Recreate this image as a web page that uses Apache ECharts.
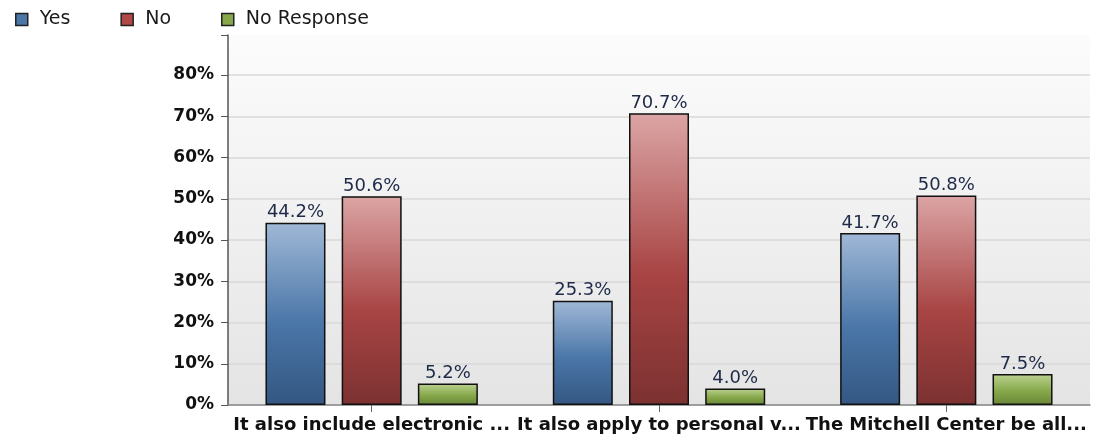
<!DOCTYPE html>
<html>
<head>
<meta charset="utf-8">
<script src="https://cdn.jsdelivr.net/npm/echarts@6/dist/echarts.min.js"></script>
<style>
html,body{margin:0;padding:0;background:#fff;}
#c{width:1099px;height:445px;}
</style>
</head>
<body>
<div id="c"></div>
<script>
var categories = ["It also include electronic ...", "It also apply to personal v...", "The Mitchell Center be all..."];
var seriesNames = ["Yes", "No", "No Response"];
var yesValues = [44.2, 25.3, 41.7];
var noValues = [50.6, 70.7, 50.8];
var noResponseValues = [5.2, 4.0, 7.5];

function grad(top, mid, bottom) {
  return new echarts.graphic.LinearGradient(0, 0, 0, 1, [
    {offset: 0, color: top},
    {offset: 0.55, color: mid},
    {offset: 1, color: bottom}
  ]);
}
var FONT = '"DejaVu Sans", Verdana, sans-serif';
var labelCfg = {
  show: true, position: 'top', distance: 1,
  fontSize: 18, color: '#1e2a48', fontFamily: FONT,
  formatter: function (p) { return p.value.toFixed(1) + '%'; }
};
function mk(name, data, top, mid, bottom) {
  return {
    name: name, type: 'bar', data: data,
    barWidth: 60, barGap: '27%',
    itemStyle: {color: grad(top, mid, bottom), borderColor: '#111', borderWidth: 1.5},
    label: labelCfg,
    emphasis: {disabled: true}
  };
}
var gridColors = [];
for (var i = 0; i < 9; i++) gridColors.push('#d8d8d8');
gridColors.push('rgba(0,0,0,0)');

var chart = echarts.init(document.getElementById('c'));
chart.setOption({
  animation: false,
  backgroundColor: '#fff',
  legend: {
    left: 10, top: 5, itemWidth: 12, itemHeight: 12, itemGap: 50,
    icon: 'rect',
    textStyle: {fontSize: 19, color: '#1a1a1a', fontFamily: FONT, padding: [0, 0, 0, 7]},
    data: [
      {name: seriesNames[0], itemStyle: {color: '#4a76a8', borderColor: '#222', borderWidth: 1.5}},
      {name: seriesNames[1], itemStyle: {color: '#b04848', borderColor: '#222', borderWidth: 1.5}},
      {name: seriesNames[2], itemStyle: {color: '#86a84a', borderColor: '#222', borderWidth: 1.5}}
    ]
  },
  grid: {
    left: 228, right: 9, top: 35, bottom: 40,
    show: true, borderWidth: 0,
    backgroundColor: new echarts.graphic.LinearGradient(0, 0, 0, 1, [
      {offset: 0, color: '#fcfcfc'}, {offset: 1, color: '#e4e4e4'}
    ])
  },
  xAxis: {
    type: 'category', data: categories,
    axisLine: {show: true, lineStyle: {color: '#888', width: 1.5}},
    axisTick: {show: true, alignWithLabel: true, length: 7, lineStyle: {color: '#666'}},
    axisLabel: {interval: 0, fontSize: 18, fontWeight: 'bold', color: '#111', fontFamily: FONT, margin: 11}
  },
  yAxis: {
    type: 'value', min: 0, max: 89.7, interval: 10,
    axisLine: {show: true, lineStyle: {color: '#555', width: 1.5}},
    axisTick: {show: true, length: 7, lineStyle: {color: '#555'}},
    splitLine: {show: true, lineStyle: {color: gridColors, width: 1.5}},
    axisLabel: {fontSize: 17, fontWeight: 'bold', color: '#111', fontFamily: FONT, margin: 14,
      formatter: function (v) { return v > 85 ? '' : Math.round(v) + '%'; }}
  },
  series: [
    mk(seriesNames[0], yesValues, '#a0b8d6', '#4a76a8', '#345782'),
    mk(seriesNames[1], noValues, '#dca5a5', '#a84444', '#7c3131'),
    mk(seriesNames[2], noResponseValues, '#bcd292', '#86a84a', '#6a8638')
  ]
});
</script>
</body>
</html>
